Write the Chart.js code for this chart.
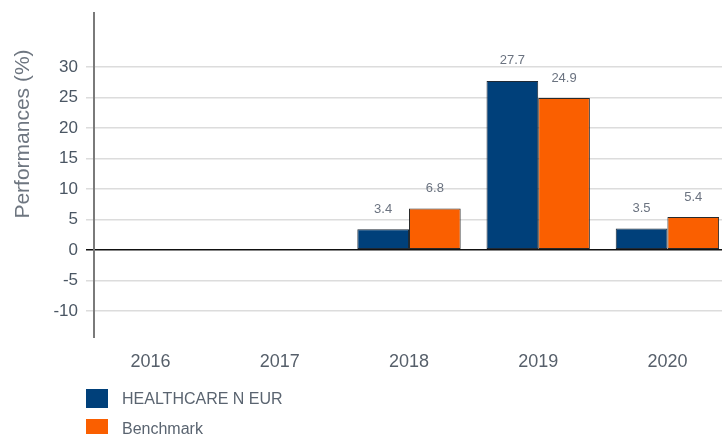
<!DOCTYPE html>
<html>
<head>
<meta charset="utf-8">
<script src="https://cdn.jsdelivr.net/npm/chart.js@4"></script>
<style>
    html, body { margin: 0; padding: 0; background: #fff; }
    body { width: 722px; height: 434px; overflow: hidden; position: relative; }
    #wrap { position: absolute; left: 0; top: 0; width: 740px; height: 434px; }
    #legend { position: absolute; left: 86px; top: 389px; font-family: "Liberation Sans", Arial, sans-serif; font-size: 16px; color: #5a6470; }
    #legend div { height: 30px; display: flex; align-items: flex-start; }
    #legend span.box { display: inline-block; width: 22px; height: 19px; margin-right: 14px; }
    #legend span.txt { line-height: 19px; }
</style>
</head>
<body>
<div id="wrap"><canvas id="perfChart" width="740" height="434"></canvas></div>
<div id="legend"></div>
<script>
// chart data
const years      = ['2016', '2017', '2018', '2019', '2020'];
const fund       = [null, null, 3.4, 27.7, 3.5];
const benchmark  = [null, null, 6.8, 24.9, 5.4];
const tickValues = [-10, -5, 0, 5, 10, 15, 20, 25, 30];

const FONT = '"Liberation Sans", Arial, sans-serif';

// value labels above each bar
const valueLabels = {
    id: 'valueLabels',
    afterDatasetsDraw(chart) {
        const ctx = chart.ctx;
        ctx.save();
        ctx.font = '13px ' + FONT;
        ctx.fillStyle = '#6b7380';
        ctx.textAlign = 'center';
        ctx.textBaseline = 'middle';
        chart.data.datasets.forEach((ds, i) => {
            chart.getDatasetMeta(i).data.forEach((bar, j) => {
                if (ds.data[j] == null) return;
                ctx.fillText(ds.data[j].toFixed(1), bar.x, bar.y - 20);
            });
        });
        ctx.restore();
    }
};

// vertical axis line + rotated axis title
const axisDecor = {
    id: 'axisDecor',
    afterDraw(chart) {
        const { ctx, chartArea } = chart;
        ctx.save();
        ctx.strokeStyle = '#7a7a7a';
        ctx.lineWidth = 2;
        ctx.beginPath();
        ctx.moveTo(chartArea.left + 8, chartArea.top);
        ctx.lineTo(chartArea.left + 8, chartArea.bottom);
        ctx.stroke();

        ctx.translate(23, 134);
        ctx.rotate(-Math.PI / 2);
        ctx.font = '21px ' + FONT;
        ctx.fillStyle = '#6e7680';
        ctx.textAlign = 'center';
        ctx.textBaseline = 'middle';
        ctx.fillText('Performances (%)', 0, 0);
        ctx.restore();
    }
};

const chart = new Chart(document.getElementById('perfChart').getContext('2d'), {
    type: 'bar',
    data: {
        labels: years,
        datasets: [
            {
                label: 'HEALTHCARE N EUR',
                data: fund,
                backgroundColor: '#00407a',
                borderColor: '#1f2a36',
                borderWidth: 1,
                borderSkipped: false
            },
            {
                label: 'Benchmark',
                data: benchmark,
                backgroundColor: '#fa5f00',
                borderColor: '#2a2a2a',
                borderWidth: 1,
                borderSkipped: false
            }
        ]
    },
    options: {
        responsive: false,
        animation: false,
        devicePixelRatio: 1,
        layout: { padding: { top: 12, right: 8, left: 0, bottom: 0 } },
        plugins: {
            legend: { display: false },
            tooltip: { enabled: false }
        },
        datasets: {
            bar: { categoryPercentage: 0.8, barPercentage: 1 }
        },
        scales: {
            x: {
                grid: { display: false },
                border: { display: false },
                ticks: {
                    font: { family: FONT, size: 18 },
                    color: '#565f6a',
                    padding: 5
                },
                afterFit: s => { s.height = 96; s.paddingLeft = 0; s.paddingRight = 0; }
            },
            y: {
                min: -14.45,
                max: 39,
                border: { display: false },
                grid: {
                    drawTicks: false,
                    lineWidth: 1.5,
                    color: c => c.tick && c.tick.value === 0 ? '#111' : '#dcdcdc'
                },
                ticks: {
                    font: { family: FONT, size: 17 },
                    color: '#4a5663',
                    padding: 8
                },
                afterBuildTicks: s => { s.ticks = tickValues.map(v => ({ value: v })); },
                afterFit: s => { s.width = 86; s.paddingTop = 0; s.paddingBottom = 0; }
            }
        }
    },
    plugins: [valueLabels, axisDecor]
});

// legend built from the datasets
document.getElementById('legend').innerHTML = chart.data.datasets
    .map(d => `<div><span class="box" style="background:${d.backgroundColor}"></span><span class="txt">${d.label}</span></div>`)
    .join('');
</script>
</body>
</html>
